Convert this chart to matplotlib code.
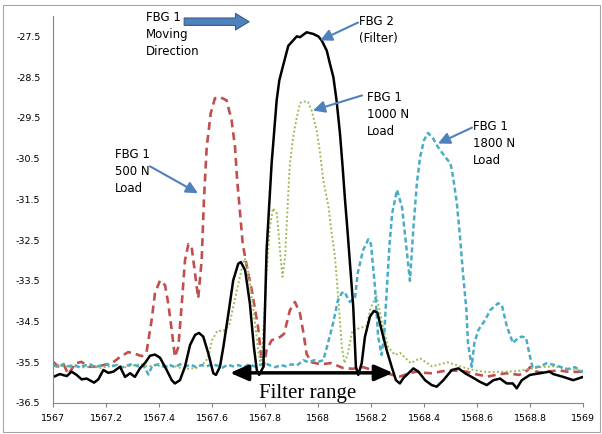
import numpy as np
import matplotlib.pyplot as plt
from matplotlib.patches import Rectangle

plt.rcParams['font.family'] = 'DejaVu Sans'

# FBG 2 (filter), black solid
filter_x = [1567.001, 1567.026, 1567.052, 1567.070, 1567.089, 1567.108, 1567.127, 1567.155, 1567.171,
            1567.190, 1567.209, 1567.228, 1567.253, 1567.272, 1567.291, 1567.309, 1567.328, 1567.347,
            1567.366, 1567.385, 1567.404, 1567.429, 1567.448, 1567.460, 1567.479, 1567.498, 1567.517,
            1567.536, 1567.551, 1567.567, 1567.586, 1567.605, 1567.615, 1567.630, 1567.643, 1567.662,
            1567.680, 1567.699, 1567.709, 1567.725, 1567.743, 1567.758, 1567.769, 1567.778, 1567.794,
            1567.806, 1567.825, 1567.844, 1567.854, 1567.867, 1567.888, 1567.920, 1567.932, 1567.957,
            1567.982, 1568.001, 1568.014, 1568.033, 1568.045, 1568.058, 1568.070, 1568.083, 1568.093,
            1568.102, 1568.108, 1568.114, 1568.133, 1568.143, 1568.152, 1568.165, 1568.177, 1568.196,
            1568.211, 1568.224, 1568.240, 1568.259, 1568.278, 1568.294, 1568.309, 1568.322, 1568.335,
            1568.360, 1568.379, 1568.404, 1568.429, 1568.448, 1568.473, 1568.505, 1568.530, 1568.555,
            1568.580, 1568.611, 1568.637, 1568.662, 1568.687, 1568.712, 1568.735, 1568.750, 1568.769,
            1568.800, 1568.838, 1568.873, 1568.888, 1568.926, 1568.963, 1569.000]
filter_y = [-35.86, -35.79, -35.84, -35.73, -35.81, -35.92, -35.90, -36.00, -35.92,
            -35.69, -35.76, -35.73, -35.61, -35.86, -35.77, -35.86, -35.65, -35.52,
            -35.34, -35.31, -35.39, -35.69, -35.94, -36.02, -35.94, -35.61, -35.08,
            -34.83, -34.78, -34.87, -35.28, -35.77, -35.81, -35.61, -35.12, -34.30,
            -33.49, -33.08, -33.04, -33.24, -34.06, -35.12, -35.69, -35.81, -35.61,
            -32.75, -30.62, -29.07, -28.58, -28.25, -27.73, -27.50, -27.52, -27.40,
            -27.44, -27.50, -27.60, -27.85, -28.17, -28.50, -29.07, -29.89, -30.71,
            -31.52, -32.00, -32.50, -34.14, -35.61, -35.81, -35.52, -34.88, -34.38,
            -34.24, -34.28, -34.71, -35.20, -35.61, -35.94, -36.02, -35.89, -35.81,
            -35.65, -35.73, -35.94, -36.06, -36.10, -35.94, -35.69, -35.65, -35.77,
            -35.86, -35.98, -36.06, -35.94, -35.90, -36.02, -36.02, -36.14, -35.94,
            -35.81, -35.77, -35.73, -35.79, -35.86, -35.94, -35.86]

# FBG 1, 500 N load, red dashed
load500_x = [1567.000, 1567.020, 1567.040, 1567.058, 1567.083, 1567.108, 1567.133, 1567.164, 1567.190,
             1567.221, 1567.253, 1567.284, 1567.309, 1567.335, 1567.353, 1567.372, 1567.385, 1567.404,
             1567.423, 1567.435, 1567.448, 1567.460, 1567.473, 1567.486, 1567.498, 1567.511, 1567.523,
             1567.536, 1567.548, 1567.561, 1567.570, 1567.580, 1567.595, 1567.611, 1567.630, 1567.655,
             1567.674, 1567.687, 1567.695, 1567.706, 1567.716, 1567.733, 1567.750, 1567.774, 1567.787,
             1567.795, 1567.806, 1567.825, 1567.857, 1567.872, 1567.894, 1567.913, 1567.932, 1567.945,
             1567.957, 1567.976, 1568.010, 1568.050, 1568.094, 1568.130, 1568.170, 1568.210, 1568.250,
             1568.280, 1568.310, 1568.340, 1568.370, 1568.400, 1568.430, 1568.470, 1568.510, 1568.560,
             1568.600, 1568.640, 1568.680, 1568.710, 1568.760, 1568.790, 1568.800, 1568.820, 1568.840,
             1568.880, 1568.910, 1568.950, 1569.000]
load500_y = [-35.49, -35.60, -35.55, -35.80, -35.53, -35.49, -35.61, -35.61, -35.57,
             -35.53, -35.37, -35.25, -35.29, -35.35, -35.25, -34.47, -33.80, -33.49,
             -33.61, -34.06, -34.71, -35.37, -35.12, -34.06, -33.00, -32.60, -32.66,
             -33.32, -33.93, -33.00, -31.45, -30.23, -29.39, -29.02, -28.99, -29.07,
             -29.56, -30.23, -31.03, -31.84, -32.60, -33.20, -33.73, -34.64, -35.45,
             -35.60, -35.20, -34.96, -34.88, -34.80, -34.22, -34.02, -34.30, -34.78,
             -35.30, -35.50, -35.55, -35.52, -35.64, -35.66, -35.62, -35.70, -35.75,
             -35.81, -35.85, -35.78, -35.73, -35.76, -35.77, -35.72, -35.70, -35.73,
             -35.80, -35.85, -35.80, -35.77, -35.81, -35.70, -35.62, -35.72, -35.75,
             -35.72, -35.70, -35.74, -35.73]

# FBG 1, 1000 N load, green dotted
load1000_x = [1567.000, 1567.030, 1567.060, 1567.090, 1567.120, 1567.150, 1567.180, 1567.210, 1567.240,
              1567.270, 1567.300, 1567.330, 1567.360, 1567.390, 1567.420, 1567.450, 1567.480, 1567.510,
              1567.540, 1567.565, 1567.585, 1567.600, 1567.620, 1567.643, 1567.665, 1567.680, 1567.700,
              1567.717, 1567.724, 1567.736, 1567.755, 1567.774, 1567.785, 1567.792, 1567.806, 1567.818,
              1567.830, 1567.845, 1567.857, 1567.866, 1567.876, 1567.887, 1567.894, 1567.906, 1567.920,
              1567.932, 1567.940, 1567.962, 1567.976, 1567.995, 1568.008, 1568.020, 1568.040, 1568.050,
              1568.064, 1568.075, 1568.090, 1568.100, 1568.112, 1568.130, 1568.160, 1568.185, 1568.196,
              1568.220, 1568.245, 1568.264, 1568.290, 1568.310, 1568.350, 1568.385, 1568.430, 1568.490,
              1568.535, 1568.580, 1568.620, 1568.660, 1568.710, 1568.750, 1568.790, 1568.840, 1568.890,
              1568.940, 1569.000]
load1000_y = [-35.55, -35.58, -35.62, -35.60, -35.63, -35.60, -35.64, -35.60, -35.56,
              -35.62, -35.58, -35.55, -35.60, -35.57, -35.62, -35.58, -35.64, -35.66,
              -35.64, -35.55, -35.40, -34.96, -34.73, -34.73, -34.60, -34.14, -33.56,
              -33.07, -32.95, -33.24, -34.14, -35.20, -35.61, -34.96, -33.31, -32.20,
              -31.72, -31.85, -32.80, -33.40, -32.90, -31.45, -30.62, -29.98, -29.49,
              -29.15, -29.10, -29.10, -29.32, -29.81, -30.37, -31.03, -31.70, -32.26,
              -32.90, -33.80, -35.12, -35.52, -35.30, -34.71, -34.66, -34.60, -34.22,
              -33.85, -34.63, -35.12, -35.32, -35.27, -35.52, -35.40, -35.60, -35.50,
              -35.60, -35.68, -35.73, -35.74, -35.73, -35.72, -35.67, -35.62, -35.60,
              -35.66, -35.70]

# FBG 1, 1800 N load, blue dashed
load1800_x = [1567.000, 1567.020, 1567.040, 1567.060, 1567.080, 1567.100, 1567.120, 1567.140, 1567.160,
              1567.180, 1567.200, 1567.220, 1567.240, 1567.260, 1567.280, 1567.300, 1567.320, 1567.340,
              1567.360, 1567.375, 1567.400, 1567.420, 1567.440, 1567.460, 1567.480, 1567.500, 1567.520,
              1567.540, 1567.560, 1567.580, 1567.600, 1567.620, 1567.640, 1567.660, 1567.680, 1567.700,
              1567.720, 1567.740, 1567.760, 1567.780, 1567.800, 1567.820, 1567.840, 1567.860, 1567.880,
              1567.900, 1567.920, 1567.945, 1567.965, 1567.985, 1568.005, 1568.020, 1568.034, 1568.057,
              1568.075, 1568.090, 1568.100, 1568.110, 1568.120, 1568.140, 1568.150, 1568.170, 1568.190,
              1568.200, 1568.215, 1568.227, 1568.240, 1568.250, 1568.260, 1568.270, 1568.280, 1568.298,
              1568.317, 1568.330, 1568.347, 1568.360, 1568.373, 1568.385, 1568.400, 1568.415, 1568.434,
              1568.453, 1568.480, 1568.500, 1568.510, 1568.524, 1568.536, 1568.547, 1568.560, 1568.566,
              1568.580, 1568.590, 1568.605, 1568.630, 1568.650, 1568.680, 1568.694, 1568.713, 1568.736,
              1568.755, 1568.770, 1568.785, 1568.800, 1568.810, 1568.840, 1568.864, 1568.900, 1568.940,
              1568.970, 1569.000]
load1800_y = [-35.57, -35.62, -35.54, -35.60, -35.56, -35.63, -35.58, -35.55, -35.62,
              -35.58, -35.54, -35.60, -35.57, -35.63, -35.58, -35.54, -35.60, -35.56,
              -35.80, -35.58, -35.55, -35.60, -35.57, -35.62, -35.55, -35.60, -35.56,
              -35.62, -35.57, -35.60, -35.55, -35.58, -35.63, -35.56, -35.60, -35.57,
              -35.62, -35.55, -35.60, -35.57, -35.52, -35.58, -35.62, -35.57, -35.60,
              -35.55, -35.58, -35.45, -35.50, -35.45, -35.48, -35.45, -35.12, -34.54,
              -33.98, -33.80, -33.77, -33.90, -34.02, -33.90, -33.31, -32.75, -32.48,
              -32.60, -33.66, -34.88, -35.32, -34.80, -33.66, -32.60, -31.84, -31.27,
              -31.69, -32.47, -33.50, -32.20, -31.11, -30.47, -30.05, -29.87, -30.00,
              -30.22, -30.46, -30.62, -30.96, -31.60, -32.43, -33.31, -34.22, -35.03,
              -35.61, -35.03, -34.71, -34.47, -34.22, -34.05, -34.10, -34.63, -35.03,
              -34.90, -34.87, -34.90, -35.36, -35.64, -35.60, -35.52, -35.58, -35.67,
              -35.62, -35.75]

x_ticks = [1567, 1567.2, 1567.4, 1567.6, 1567.8, 1568, 1568.2, 1568.4, 1568.6, 1568.8, 1569]
y_ticks = [-36.5, -35.5, -34.5, -33.5, -32.5, -31.5, -30.5, -29.5, -28.5, -27.5]

fig = plt.figure(figsize=(6.02, 4.34), dpi=100)
fig.patches.append(Rectangle((3/602, 2/434), 597/602, 427/434, transform=fig.transFigure,
                             fill=False, edgecolor='#a6a6a6', linewidth=0.8))
ax = fig.add_axes([53/602, 31/434, 530/602, 387/434])

ax.plot(load500_x, load500_y, color='#c0504d', lw=1.9, linestyle=(0, (3.0, 1.9)))
ax.plot(load1000_x, load1000_y, color='#9bbb59', lw=1.4, linestyle=(0, (1, 1.2)))
ax.plot(load1800_x, load1800_y, color='#4bacc6', lw=1.8, linestyle=(0, (2.0, 1.2)))
ax.plot(filter_x, filter_y, color='black', lw=1.8)

ax.set_xlim(1567, 1569)
ax.set_ylim(-36.5, -27.0)
ax.set_xticks(x_ticks)
ax.set_xticklabels([f'{v:g}' for v in x_ticks])
ax.set_yticks(y_ticks)
ax.set_yticklabels([f'{v:g}' for v in y_ticks])
ax.tick_params(axis='x', length=3, width=0.8, color='#868686', labelsize=6.8, pad=5)
ax.tick_params(axis='y', length=0, labelsize=6.8, pad=9)
for side in ['top', 'right']:
    ax.spines[side].set_visible(False)
for side in ['left', 'bottom']:
    ax.spines[side].set_color('#868686')
    ax.spines[side].set_linewidth(0.8)

# labels + pointer arrows
arrow_kw = dict(arrowstyle='-|>,head_length=0.5,head_width=0.25', color='#4f81bd', lw=1.5,
                mutation_scale=14, shrinkA=0, shrinkB=0)
txt_kw = dict(fontsize=8.5, va='top', ha='left', linespacing=1.4, color='black')

ax.text(1567.351, -26.88, 'FBG 1\nMoving\nDirection', **txt_kw)
ax.annotate('', xy=(1567.74, -27.14), xytext=(1567.495, -27.14), annotation_clip=False,
            arrowprops=dict(arrowstyle='simple,head_length=0.7,head_width=0.85,tail_width=0.38',
                            fc='#4f81bd', ec='#385d8a', lw=0.8, mutation_scale=14,
                            shrinkA=0, shrinkB=0))

ax.text(1568.155, -26.97, 'FBG 2\n(Filter)', **txt_kw)
ax.annotate('', xy=(1568.008, -27.60), xytext=(1568.151, -27.16), arrowprops=arrow_kw,
            annotation_clip=False)

ax.text(1568.185, -28.83, 'FBG 1\n1000 N\nLoad', **txt_kw)
ax.annotate('', xy=(1567.981, -29.32), xytext=(1568.166, -28.95), arrowprops=arrow_kw)

ax.text(1568.585, -29.56, 'FBG 1\n1800 N\nLoad', **txt_kw)
ax.annotate('', xy=(1568.453, -30.13), xytext=(1568.581, -29.74), arrowprops=arrow_kw)

ax.text(1567.234, -30.25, 'FBG 1\n500 N\nLoad', **txt_kw)
ax.annotate('', xy=(1567.547, -31.35), xytext=(1567.366, -30.69), arrowprops=arrow_kw)

# filter range
ax.annotate('', xy=(1567.668, -35.76), xytext=(1568.283, -35.76),
            arrowprops=dict(arrowstyle='<|-|>,head_length=0.55,head_width=0.24', color='black',
                            lw=2.5, mutation_scale=20, shrinkA=0, shrinkB=0))
ax.text(1567.96, -36.38, 'Filter range', fontsize=15, family='Liberation Serif',
        ha='center', va='baseline')

plt.savefig('out.png', dpi=100)
